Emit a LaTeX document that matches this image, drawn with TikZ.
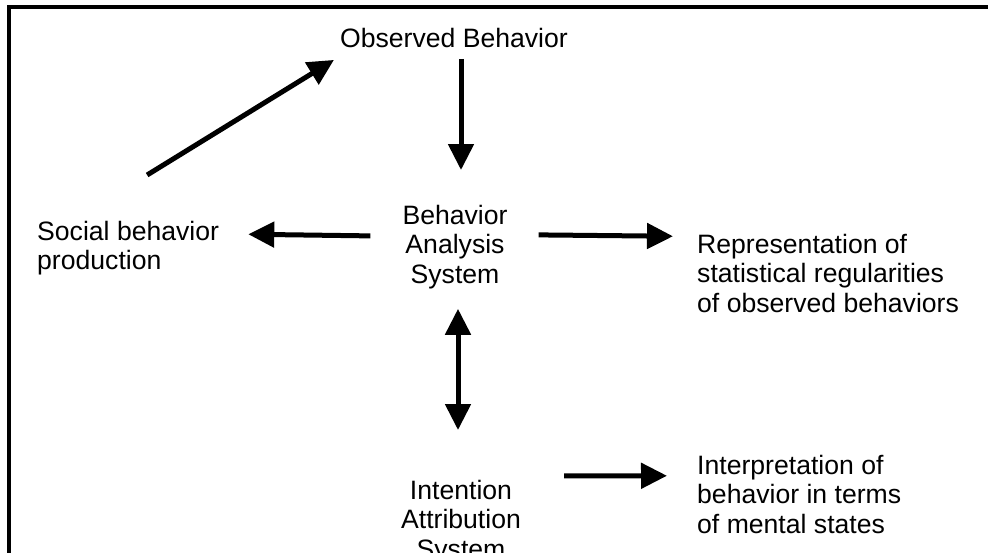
\documentclass[tikz,border=0pt]{standalone}
\usepackage{fontspec}
\setmainfont{Liberation Sans}
\usetikzlibrary{arrows.meta}
\begin{document}
\begin{tikzpicture}[x=1pt,y=-1pt,
  lbl/.style={inner sep=0pt,font=\fontsize{26.6pt}{29.3pt}\selectfont},
  ctr/.style={lbl,align=center,anchor=north},
  lft/.style={lbl,align=left,anchor=north west},
  arr/.style={line width=5pt,-{Triangle[length=26pt,width=25pt]}},
  darr/.style={line width=5pt,{Triangle[length=26pt,width=25pt]}-{Triangle[length=26pt,width=25pt]}}]
\useasboundingbox (0,0) rectangle (988,552);
\clip (0,0) rectangle (988,552);
\draw[line width=4pt] (9,7) rectangle (1000,570);
\node[ctr] (obs) at (454,28) {Observed Behavior};
\node[ctr] (bas) at (455,205) {Behavior\\Analysis\\System};
\node[lft] (soc) at (37,221) {Social behavior\\production};
\node[lft] (rep) at (697,234) {Representation of\\statistical regularities\\of observed behaviors};
\node[ctr] (ias) at (461,480) {Intention\\Attribution\\System};
\node[lft] (int) at (697,455) {Interpretation of\\behavior in terms\\of mental states};
\draw[arr] ([shift={(7,11)}]obs.south) -- ([shift={(6,-35)}]bas.north);
\draw[arr] ([shift={(19,-46)}]soc.north) -- ([shift={(-6,12)}]obs.south west);
\draw[arr] ([shift={(-32,-11)}]bas.west) -- ([shift={(29,-14)}]soc.east);
\draw[arr] ([shift={(31,-12)}]bas.east) -- ([shift={(-24,-37)}]rep.west);
\draw[darr] ([shift={(3,20)}]bas.south) -- ([shift={(-3,-50)}]ias.north);
\draw[arr] ([shift={(43,-46)}]ias.east) -- ([shift={(-30,-18.5)}]int.west);
\end{tikzpicture}
\end{document}
